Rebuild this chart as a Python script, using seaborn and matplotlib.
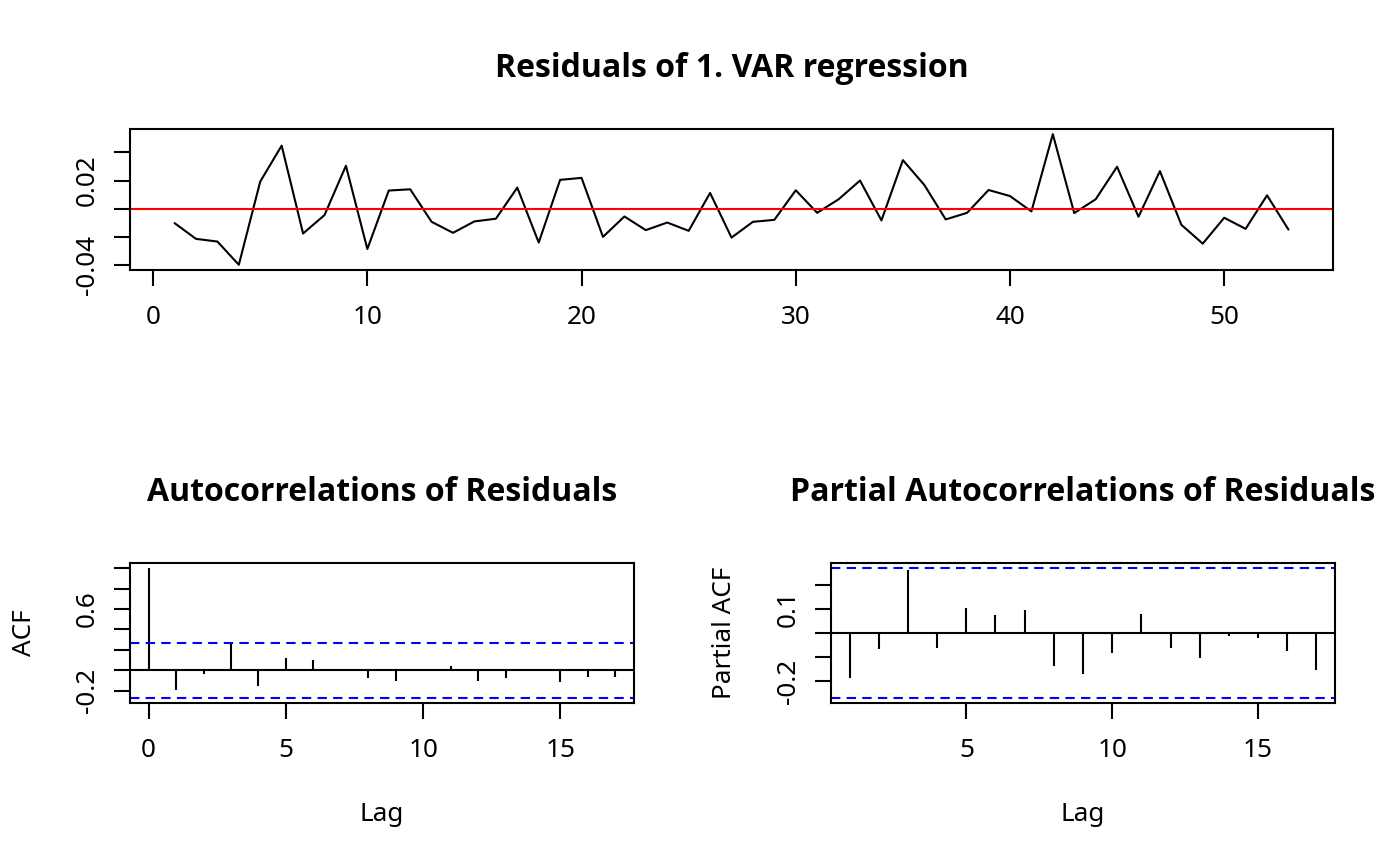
import numpy as np
import pandas as pd
import seaborn as sns
import matplotlib
matplotlib.use("Agg")
import matplotlib.pyplot as plt

# residuals of the 1. VAR regression
time_index = list(range(1, 54))
residuals = [
    -0.0102, -0.0214, -0.0233, -0.0398, 0.0193, 0.0448, -0.0176, -0.0045, 0.0305, -0.0286,
    0.0129, 0.0138, -0.0093, -0.0171, -0.0090, -0.0071, 0.0150, -0.0240, 0.0205, 0.0219,
    -0.0200, -0.0055, -0.0152, -0.0098, -0.0157, 0.0112, -0.0205, -0.0093, -0.0079, 0.0131,
    -0.0029, 0.0067, 0.0200, -0.0083, 0.0345, 0.0169, -0.0076, -0.0029, 0.0133, 0.0090,
    -0.0019, 0.0529, -0.0031, 0.0067, 0.0298, -0.0057, 0.0267, -0.0114, -0.0248, -0.0064,
    -0.0143, 0.0095, -0.0148,
]

acf_lags = list(range(0, 18))
acf_values = [1.0, -0.190, -0.037, 0.262, -0.152, 0.118, 0.105, -0.005, -0.080, -0.100,
              0.004, 0.045, -0.100, -0.078, 0.008, -0.115, -0.062, -0.070]

pacf_lags = list(range(1, 18))
pacf_values = [-0.188, -0.068, 0.261, -0.061, 0.105, 0.074, 0.094, -0.137, -0.170, -0.083,
               0.079, -0.063, -0.102, -0.011, -0.022, -0.074, -0.153]

n_obs = 53
conf_limit = 1.96 / np.sqrt(n_obs)

top_xticks = [0, 10, 20, 30, 40, 50]
top_yticks = [-0.04, -0.02, 0.0, 0.02, 0.04]
top_yticklabels = ['-0.04', '', '', '0.02', '']
acf_xticks = [0, 5, 10, 15]
acf_yticks = [-0.2, 0.0, 0.2, 0.4, 0.6, 0.8, 1.0]
acf_yticklabels = ['-0.2', '', '', '', '0.6', '', '']
pacf_xticks = [5, 10, 15]
pacf_yticks = [-0.2, -0.1, 0.0, 0.1, 0.2]
pacf_yticklabels = ['-0.2', '', '', '0.1', '']


def r_limits(lo, hi):
    pad = (hi - lo) * 0.04
    return lo - pad, hi + pad


sns.set_style('white')
plt.rcParams['font.family'] = ['Noto Sans', 'DejaVu Sans']
plt.rcParams['text.color'] = 'black'
plt.rcParams['axes.labelcolor'] = 'black'
plt.rcParams['xtick.color'] = 'black'
plt.rcParams['ytick.color'] = 'black'

W, H = 1400, 866
fig = plt.figure(figsize=(14, 8.66), dpi=100)

LW = 1.5
FS = 18.8
TFS = 23.0
TITLE_FONT = ['Open Sans', 'Noto Sans', 'DejaVu Sans']


def px_axes(left, top, right, bottom):
    return fig.add_axes([left / W, 1 - bottom / H, (right - left) / W, (bottom - top) / H])


def style_axes(ax):
    for sp in ax.spines.values():
        sp.set_visible(True)
        sp.set_color('black')
        sp.set_linewidth(LW)
    ax.tick_params(axis='both', direction='out', length=11.5, width=LW, colors='black',
                   labelsize=FS, left=True, bottom=True)
    ax.tick_params(axis='x', pad=14)
    ax.tick_params(axis='y', pad=10)
    for lab in ax.get_yticklabels():
        lab.set_rotation(90)
        lab.set_va('center')
    ax.grid(False)


# top: residual series
ax1 = px_axes(130, 129, 1333, 270)
df = pd.DataFrame({'t': time_index, 'resid': residuals})
sns.lineplot(data=df, x='t', y='resid', color='black', linewidth=LW, ax=ax1)
ax1.axhline(0, color='#FF0000', linewidth=LW)
ax1.set_xlim(*r_limits(min(time_index), max(time_index)))
ax1.set_ylim(*r_limits(min(residuals), max(residuals)))
ax1.set_xticks(top_xticks)
ax1.set_yticks(top_yticks)
ax1.set_yticklabels(top_yticklabels)
ax1.set_xlabel('')
ax1.set_ylabel('')
style_axes(ax1)
fig.text(731.5 / W, 1 - 77 / H, 'Residuals of 1. VAR regression', ha='center', va='baseline',
         fontsize=TFS, fontweight='bold', family=TITLE_FONT)

# bottom left: ACF
ax2 = px_axes(130, 563, 634, 703)
ax2.vlines(acf_lags, 0, acf_values, color='black', linewidth=LW)
ax2.axhline(0, color='black', linewidth=LW)
for c in (conf_limit, -conf_limit):
    ax2.axhline(c, color='#0000FF', linewidth=LW, linestyle=(0, (4.5, 3)))
ax2.set_xlim(*r_limits(min(acf_lags), max(acf_lags)))
ax2.set_ylim(*r_limits(min(min(acf_values), -conf_limit), max(max(acf_values), conf_limit)))
ax2.set_xticks(acf_xticks)
ax2.set_yticks(acf_yticks)
ax2.set_yticklabels(acf_yticklabels)
ax2.set_xlabel('Lag', fontsize=FS)
ax2.set_ylabel('ACF', fontsize=FS)
style_axes(ax2)
ax2.xaxis.set_label_coords(0.5, (703 - 802) / 140)
ax2.yaxis.set_label_coords((37 - 130) / 504, 0.5)
fig.text(382 / W, 1 - 501 / H, 'Autocorrelations of Residuals', ha='center', va='baseline',
         fontsize=TFS, fontweight='bold', family=TITLE_FONT)

# bottom right: PACF
ax3 = px_axes(831, 563, 1335, 703)
ax3.vlines(pacf_lags, 0, pacf_values, color='black', linewidth=LW)
ax3.axhline(0, color='black', linewidth=LW)
for c in (conf_limit, -conf_limit):
    ax3.axhline(c, color='#0000FF', linewidth=LW, linestyle=(0, (4.5, 3)))
ax3.set_xlim(*r_limits(min(pacf_lags), max(pacf_lags)))
ax3.set_ylim(*r_limits(min(min(pacf_values), -conf_limit), max(max(pacf_values), conf_limit)))
ax3.set_xticks(pacf_xticks)
ax3.set_yticks(pacf_yticks)
ax3.set_yticklabels(pacf_yticklabels)
ax3.set_xlabel('Lag', fontsize=FS)
ax3.set_ylabel('Partial ACF', fontsize=FS)
style_axes(ax3)
ax3.xaxis.set_label_coords(0.5, (703 - 802) / 140)
ax3.yaxis.set_label_coords((737 - 831) / 504, 0.5)
fig.text(1083 / W, 1 - 501 / H, 'Partial Autocorrelations of Residuals', ha='center', va='baseline',
         fontsize=TFS, fontweight='bold', family=TITLE_FONT)

fig.savefig('out.png', dpi=100)
